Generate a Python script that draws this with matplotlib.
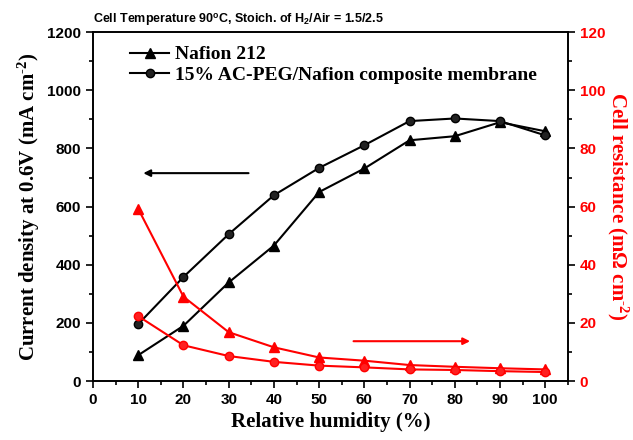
import numpy as np
import matplotlib.pyplot as plt

# Relative humidity (%)
rh = [10, 20, 30, 40, 50, 60, 70, 80, 90, 100]

# Current density at 0.6 V (mA cm-2)
cd_nafion = [89, 190, 339, 466, 650, 731, 828, 842, 890, 859]
cd_composite = [196, 358, 505, 639, 733, 811, 894, 903, 894, 845]

# Cell resistance (mOhm cm-2)
res_nafion = [59.2, 29.0, 16.8, 11.6, 8.1, 7.0, 5.5, 4.9, 4.4, 4.0]
res_composite = [22.3, 12.3, 8.6, 6.6, 5.3, 4.7, 4.0, 3.8, 3.4, 3.1]

serif = ['Liberation Serif', 'DejaVu Serif']
sans = ['Liberation Sans', 'DejaVu Sans']

plt.rcParams['mathtext.fontset'] = 'custom'
plt.rcParams['mathtext.rm'] = 'Liberation Serif:bold'
plt.rcParams['mathtext.it'] = 'Liberation Serif:bold'
plt.rcParams['mathtext.bf'] = 'Liberation Serif:bold'
plt.rcParams['mathtext.sf'] = 'Liberation Sans:bold'

fig = plt.figure(figsize=(6.33, 4.4), dpi=100)
ax = fig.add_axes([0.147, 0.134, 0.75, 0.793])
ax2 = ax.twinx()

ax.plot(rh, cd_nafion, '-^', color='black', lw=1.5, ms=7, label='Nafion 212')
ax.plot(rh, cd_composite, '-o', color='black', lw=1.5, ms=6,
        mfc='#222222', mec='black', label='15% AC-PEG/Nafion composite membrane')

ax2.plot(rh, res_nafion, '-^', color='red', lw=1.5, ms=7)
ax2.plot(rh, res_composite, '-o', color='red', lw=1.5, ms=6, mfc='#ff2020')

ax.set_xlim(0, 105)
ax.set_ylim(0, 1200)
ax2.set_ylim(0, 120)

ax.set_xticks(np.arange(0, 101, 10))
ax.set_xticks(np.arange(5, 106, 10), minor=True)
ax.set_yticks(np.arange(0, 1201, 200))
ax.set_yticks(np.arange(100, 1200, 200), minor=True)
ax2.set_yticks(np.arange(0, 121, 20))
ax2.set_yticks(np.arange(10, 120, 20), minor=True)

for a in (ax, ax2):
    a.tick_params(which='major', direction='out', length=5, width=1.2)
    a.tick_params(which='minor', direction='out', length=3, width=1.2)
    for s in a.spines.values():
        s.set_linewidth(1.2)

for lab in ax.get_xticklabels() + ax.get_yticklabels():
    lab.set_family(sans)
    lab.set_fontweight('bold')
    lab.set_fontsize(11)
for lab in ax2.get_yticklabels():
    lab.set_family(sans)
    lab.set_fontweight('bold')
    lab.set_fontsize(11)
    lab.set_color('red')

ax.set_xlabel('Relative humidity (%)', family=serif, fontweight='bold', fontsize=15)
ax.set_ylabel('Current density at 0.6V (mA cm$^{\\text{-2}}$)', family=serif,
              fontweight='bold', fontsize=15)
ax2.set_ylabel('Cell resistance (m$\\Omega$ cm$^{\\text{-2}}$)', family=serif,
               fontweight='bold', fontsize=15, color='red', rotation=270,
               labelpad=18)

fig.text(0.147, 0.955, 'Cell Temperature 90$^{\\mathsf{o}}$C, Stoich. of H$_{\\mathsf{2}}$/Air = 1.5/2.5',
         family=sans, fontweight='bold', fontsize=9, va='center')

# direction arrows
ax.annotate('', xy=(10.5, 715), xytext=(35, 715),
            arrowprops=dict(arrowstyle='-|>', color='black', lw=1.5))
ax2.annotate('', xy=(84, 13.7), xytext=(57, 13.7),
             arrowprops=dict(arrowstyle='-|>', color='red', lw=1.5))

leg = ax.legend(loc='upper left', bbox_to_anchor=(0.05, 1.0), frameon=False,
                prop={'family': serif, 'weight': 'bold', 'size': 14},
                handlelength=2.0, handletextpad=0.3, labelspacing=0.15,
                borderaxespad=0.3)

fig.savefig('out.png', dpi=100)
